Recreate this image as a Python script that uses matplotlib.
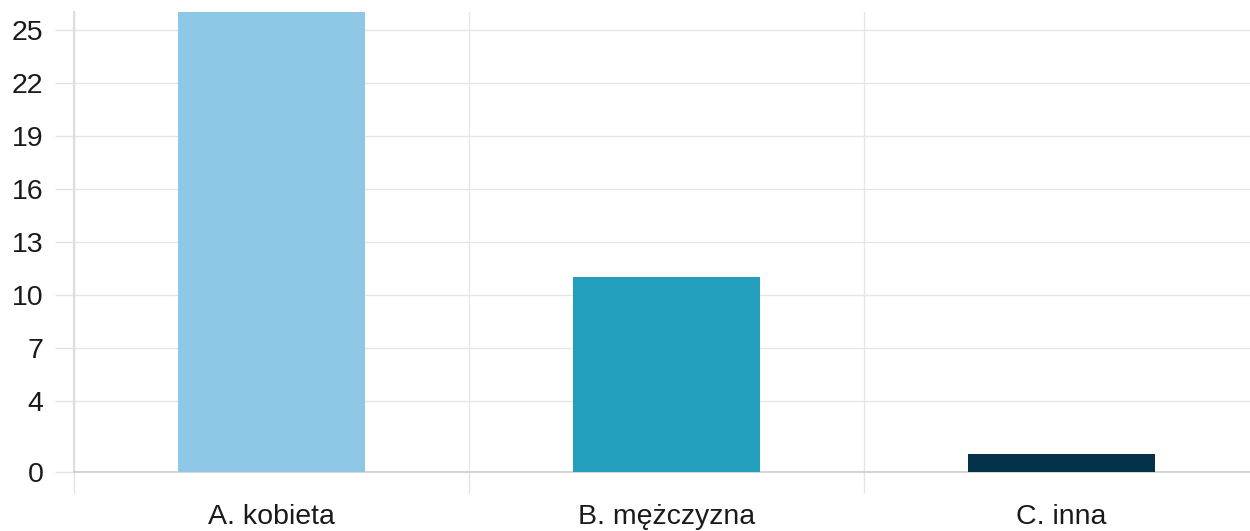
import matplotlib
matplotlib.use("Agg")
import matplotlib.pyplot as plt
import numpy as np

categories = ["A. kobieta", "B. mężczyzna", "C. inna"]
values = [26, 11, 1]
colors = ["#8FC8E6", "#239EBC", "#04324A"]
yticks = [0, 4, 7, 10, 13, 16, 19, 22, 25]

plt.rcParams['font.family'] = ['Liberation Sans', 'DejaVu Sans']

fig = plt.figure(figsize=(12.5, 5.31), dpi=100)
ax = fig.add_axes([74/1250, 59/531, 1185/1250, 460/531])

x = np.arange(len(categories))
ax.bar(x, values, width=0.473, color=colors, zorder=3)

ax.set_xlim(-0.5, len(categories) - 0.5)
ax.set_ylim(0, 26)

ax.set_yticks(yticks)
ax.set_yticklabels([str(v) for v in yticks], fontsize=20.5, color="#1a1a1a")
ax.tick_params(axis='y', length=14, width=1, color="#e3e3e3", pad=8)

ax.set_xticks(x)
ax.set_xticklabels(categories, fontsize=20.5, color="#1a1a1a")
ax.tick_params(axis='x', which='major', length=0, pad=23)
ax.set_xticks(np.arange(len(categories) + 1) - 0.5, minor=True)
ax.tick_params(axis='x', which='minor', length=15, width=1, color="#e3e3e3")

ax.grid(axis='y', which='major', color="#e6e6e6", linewidth=1, zorder=0)
ax.grid(axis='x', which='minor', color="#e6e6e6", linewidth=1, zorder=0)

for s in ['top', 'right']:
    ax.spines[s].set_visible(False)
ax.spines['left'].set_color("#dddddd")
ax.spines['left'].set_linewidth(1.5)
ax.spines['bottom'].set_color("#cccccc")
ax.spines['bottom'].set_linewidth(1.2)

fig.savefig("out.png", dpi=100, facecolor="white")
